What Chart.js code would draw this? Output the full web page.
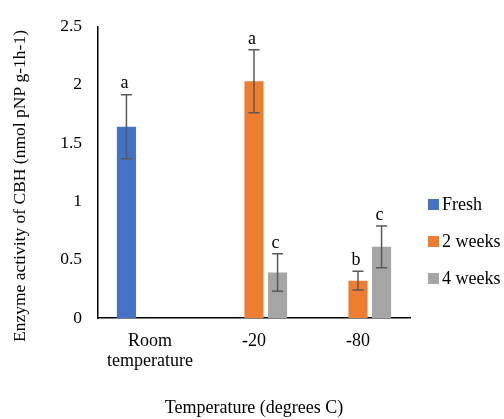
<!DOCTYPE html>
<html>
<head>
<meta charset="utf-8">
<script src="https://cdn.jsdelivr.net/npm/chart.js@4/dist/chart.umd.min.js"></script>
<style>
  body { margin: 0; background: #fff; }
  #wrap { width: 504px; height: 419px; }
</style>
</head>
<body>
<div id="wrap"><canvas id="cbhChart"></canvas></div>
<script>
// Chart data
const categories = [['Room', 'temperature'], '-20', '-80'];
const seriesNames = ['Fresh', '2 weeks', '4 weeks'];
const freshValues = [1.64, null, null];
const twoWeekValues = [null, 2.03, 0.32];
const fourWeekValues = [null, 0.39, 0.61];
const freshErrors = [0.275, null, null];
const twoWeekErrors = [null, 0.27, 0.08];
const fourWeekErrors = [null, 0.16, 0.18];
const freshLetters = ['a', null, null];
const twoWeekLetters = [null, 'a', 'b'];
const fourWeekLetters = [null, 'c', 'c'];
const yTicks = [0, 0.5, 1, 1.5, 2, 2.5];
const yTitle = 'Enzyme activity of CBH (nmol pNP g-1h-1)';
const xTitle = 'Temperature (degrees C)';

const serif = "'Liberation Serif', 'Times New Roman', serif";
const colors = ['#4472C4', '#ED7D31', '#A5A5A5'];

// Error bars + significance letters
const errorBarPlugin = {
  id: 'errorBars',
  afterDatasetsDraw(chart) {
    const ctx = chart.ctx;
    const y = chart.scales.y;
    chart.data.datasets.forEach((ds, i) => {
      const meta = chart.getDatasetMeta(i);
      meta.data.forEach((bar, j) => {
        const v = ds.data[j];
        const e = ds.errors[j];
        if (v == null || e == null) return;
        const top = y.getPixelForValue(v + e);
        const bot = y.getPixelForValue(v - e);
        ctx.save();
        ctx.strokeStyle = '#595959';
        ctx.lineWidth = 1.5;
        ctx.beginPath();
        ctx.moveTo(bar.x, top); ctx.lineTo(bar.x, bot);
        ctx.moveTo(bar.x - 5.5, top); ctx.lineTo(bar.x + 5.5, top);
        ctx.moveTo(bar.x - 5.5, bot); ctx.lineTo(bar.x + 5.5, bot);
        ctx.stroke();
        if (ds.letters[j]) {
          ctx.fillStyle = '#000';
          ctx.font = '18px ' + serif;
          ctx.textAlign = 'center';
          ctx.textBaseline = 'bottom';
          ctx.fillText(ds.letters[j], bar.x - 2, top - 2);
        }
        ctx.restore();
      });
    });
  }
};

// Legend on the right and the y title, drawn by hand to match the spacing
const sideLegend = {
  id: 'sideLegend',
  afterDraw(chart) {
    const ctx = chart.ctx;
    const rows = [204, 241, 278];
    chart.data.datasets.forEach((ds, i) => {
      ctx.save();
      ctx.fillStyle = ds.backgroundColor;
      ctx.fillRect(428, rows[i] - 5, 11, 11);
      ctx.fillStyle = '#000';
      ctx.font = '18px ' + serif;
      ctx.textAlign = 'left';
      ctx.textBaseline = 'middle';
      ctx.fillText(ds.label, 442, rows[i] + 1);
      ctx.restore();
    });
    ctx.save();
    ctx.translate(20, 186);
    ctx.rotate(-Math.PI / 2);
    ctx.fillStyle = '#000';
    ctx.font = '17.5px ' + serif;
    ctx.textAlign = 'center';
    ctx.textBaseline = 'middle';
    ctx.fillText(yTitle, 0, 0);
    ctx.restore();
  }
};

const makeSet = (label, data, errors, letters, color) => ({
  label, data, errors, letters,
  backgroundColor: color,
  categoryPercentage: 0.68,
  barPercentage: 0.81,
  skipNull: false
});

new Chart(document.getElementById('cbhChart'), {
  type: 'bar',
  data: {
    labels: categories,
    datasets: [
      makeSet(seriesNames[0], freshValues, freshErrors, freshLetters, colors[0]),
      makeSet(seriesNames[1], twoWeekValues, twoWeekErrors, twoWeekLetters, colors[1]),
      makeSet(seriesNames[2], fourWeekValues, fourWeekErrors, fourWeekLetters, colors[2])
    ]
  },
  options: {
    responsive: true,
    maintainAspectRatio: false,
    animation: false,
    layout: { padding: { top: 23, right: 94, left: 0, bottom: 0 } },
    plugins: {
      legend: { display: false },
      tooltip: { enabled: false }
    },
    scales: {
      x: {
        grid: { display: false, drawTicks: false },
        border: { color: '#000', width: 1.5 },
        ticks: {
          color: '#000',
          font: { family: serif, size: 18, lineHeight: 1.12 },
          padding: 13,
          maxRotation: 0
        },
        title: {
          display: true,
          text: xTitle,
          color: '#000',
          font: { family: serif, size: 18 },
          padding: { top: 21, bottom: 0 }
        },
        afterFit: s => { s.height = 101; }
      },
      y: {
        min: 0,
        max: 2.5,
        afterBuildTicks: s => { s.ticks = yTicks.map(v => ({ value: v })); },
        grid: { display: false, drawTicks: false },
        border: { color: '#000', width: 1.5 },
        ticks: {
          color: '#000',
          font: { family: serif, size: 17.5 },
          padding: 16,
          callback: v => String(v)
        },
        afterFit: s => { s.width = 98; }
      }
    }
  },
  plugins: [errorBarPlugin, sideLegend]
});
</script>
</body>
</html>
